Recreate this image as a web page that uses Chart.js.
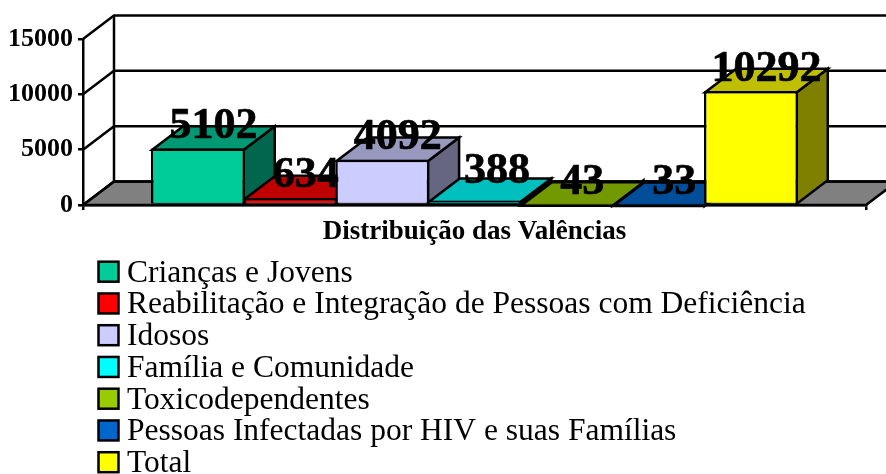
<!DOCTYPE html>
<html><head><meta charset="utf-8">
<style>html,body{margin:0;padding:0;background:#fff}canvas{display:block}</style>
<script src="https://cdn.jsdelivr.net/npm/chart.js@4"></script>
</head><body><canvas id="c" width="886" height="474"></canvas>
<script>
const categories = ['Distribuição das Valências'];
const seriesNames = ['Crianças e Jovens','Reabilitação e Integração de Pessoas com Deficiência','Idosos','Família e Comunidade','Toxicodependentes','Pessoas Infectadas por HIV e suas Famílias','Total'];
const seriesValues = [5102,634,4092,388,43,33,10292];
const seriesColors = [[0,204,153],[255,0,0],[204,204,255],[0,255,255],[153,204,0],[0,102,204],[255,255,0]];
const yTicks = [0,5000,10000,15000];

const DX = 31, DY = 23.5, LW = 2.5, SERIF = '"Liberation Serif","Times New Roman",serif';
const rgb = (c,k=1)=>`rgb(${c.map(v=>Math.round(v*k)).join(',')})`;
function poly(ctx,pts,fill){
  ctx.beginPath(); pts.forEach((p,i)=>i?ctx.lineTo(p[0],p[1]):ctx.moveTo(p[0],p[1])); ctx.closePath();
  if(fill){ctx.fillStyle=fill;ctx.fill();}
  ctx.stroke();
}
const frame3d = {
  id:'frame3d',
  beforeDatasetsDraw(chart){
    const {ctx,chartArea:a,scales:{y}} = chart;
    ctx.save(); ctx.strokeStyle='#000'; ctx.lineWidth=LW; ctx.lineJoin='miter';
    const y0=y.getPixelForValue(0);
    poly(ctx,[[a.left,y0],[a.left+DX,y0-DY],[a.right+DX,y0-DY],[a.right,y0]],'#808080');
    yTicks.forEach(v=>{
      const p=y.getPixelForValue(v);
      ctx.beginPath(); ctx.moveTo(a.left,p); ctx.lineTo(a.left+DX,p-DY); ctx.lineTo(a.right+DX,p-DY); ctx.stroke();
    });
    ctx.beginPath(); ctx.moveTo(a.left+DX,y.getPixelForValue(15000)-DY); ctx.lineTo(a.left+DX,y0-DY); ctx.stroke();
    // side and top faces, painted left to right; fronts come from the library
    chart.data.datasets.forEach((ds,i)=>{
      const b=chart.getDatasetMeta(i).data[0], e=LW/2;
      const l=b.x-b.width/2+e, r=b.x+b.width/2-e, t=b.y+e, bt=b.base, c=seriesColors[i];
      poly(ctx,[[r,bt],[r+DX,bt-DY],[r+DX,t-DY],[r,t]],rgb(c,.5));
      poly(ctx,[[l,t],[l+DX,t-DY],[r+DX,t-DY],[r,t]],rgb(c,.75));
    });
    ctx.restore();
  },
  afterDatasetsDraw(chart){
    const {ctx}=chart;
    ctx.save(); ctx.fillStyle='#000'; ctx.strokeStyle='#000'; ctx.lineWidth=0.7; ctx.textAlign='center'; ctx.textBaseline='alphabetic';
    ctx.font='bold 44px '+SERIF;
    chart.data.datasets.forEach((ds,i)=>{
      const b=chart.getDatasetMeta(i).data[0];
      const nudge = seriesValues[i]===388 ? 7 : 0;
      const x=b.x+DX/2+nudge, yy=b.y-DY+13-nudge;
      ctx.fillText(String(ds.data[0]),x,yy); ctx.strokeText(String(ds.data[0]),x,yy);
    });
    ctx.restore();
  },
  afterDraw(chart){
    const {ctx}=chart;
    ctx.save(); ctx.textAlign='left'; ctx.textBaseline='alphabetic';
    ctx.font='31.5px '+SERIF;
    chart.data.datasets.forEach((ds,i)=>{
      const base=281.7+i*31.75, cy=base-10;
      ctx.fillStyle=ds.backgroundColor; ctx.strokeStyle='#000'; ctx.lineWidth=LW;
      ctx.fillRect(98.5,cy-10,20,20); ctx.strokeRect(98.5,cy-10,20,20);
      ctx.fillStyle='#000';
      ctx.fillText(ds.label,127,base);
    });
    ctx.restore();
  }
};
new Chart(document.getElementById('c'),{
  type:'bar',
  data:{labels:categories,datasets:seriesNames.map((n,i)=>({
    label:n,data:[seriesValues[i]],backgroundColor:rgb(seriesColors[i]),borderColor:'#000',
    borderWidth:{top:LW,left:LW,right:LW,bottom:1},borderSkipped:false
  }))},
  options:{
    responsive:false,animation:false,
    categoryPercentage:0.824,barPercentage:1.02,
    layout:{padding:{left:0,right:20,top:39,bottom:229}},
    plugins:{legend:{display:false},tooltip:{enabled:false},title:{display:false}},
    scales:{
      x:{
        afterFit(s){s.height=40;},
        border:{color:'#000',width:LW},
        grid:{drawOnChartArea:false,drawTicks:true,tickLength:5,color:'#000',lineWidth:LW},
        ticks:{color:'#000',font:{family:SERIF,size:27,weight:'bold'},padding:6,maxRotation:0,autoSkip:false}
      },
      y:{
        min:0,max:15000,
        afterFit(s){s.width=83;},
        border:{color:'#000',width:LW},
        grid:{drawOnChartArea:false,drawTicks:true,tickLength:5,color:'#000',lineWidth:LW},
        afterBuildTicks(s){s.ticks=yTicks.map(v=>({value:v}));},
        ticks:{color:'#000',font:{family:SERIF,size:26,weight:'bold'},padding:5,callback:v=>String(v)}
      }
    }
  },
  plugins:[frame3d]
});
</script></body></html>
